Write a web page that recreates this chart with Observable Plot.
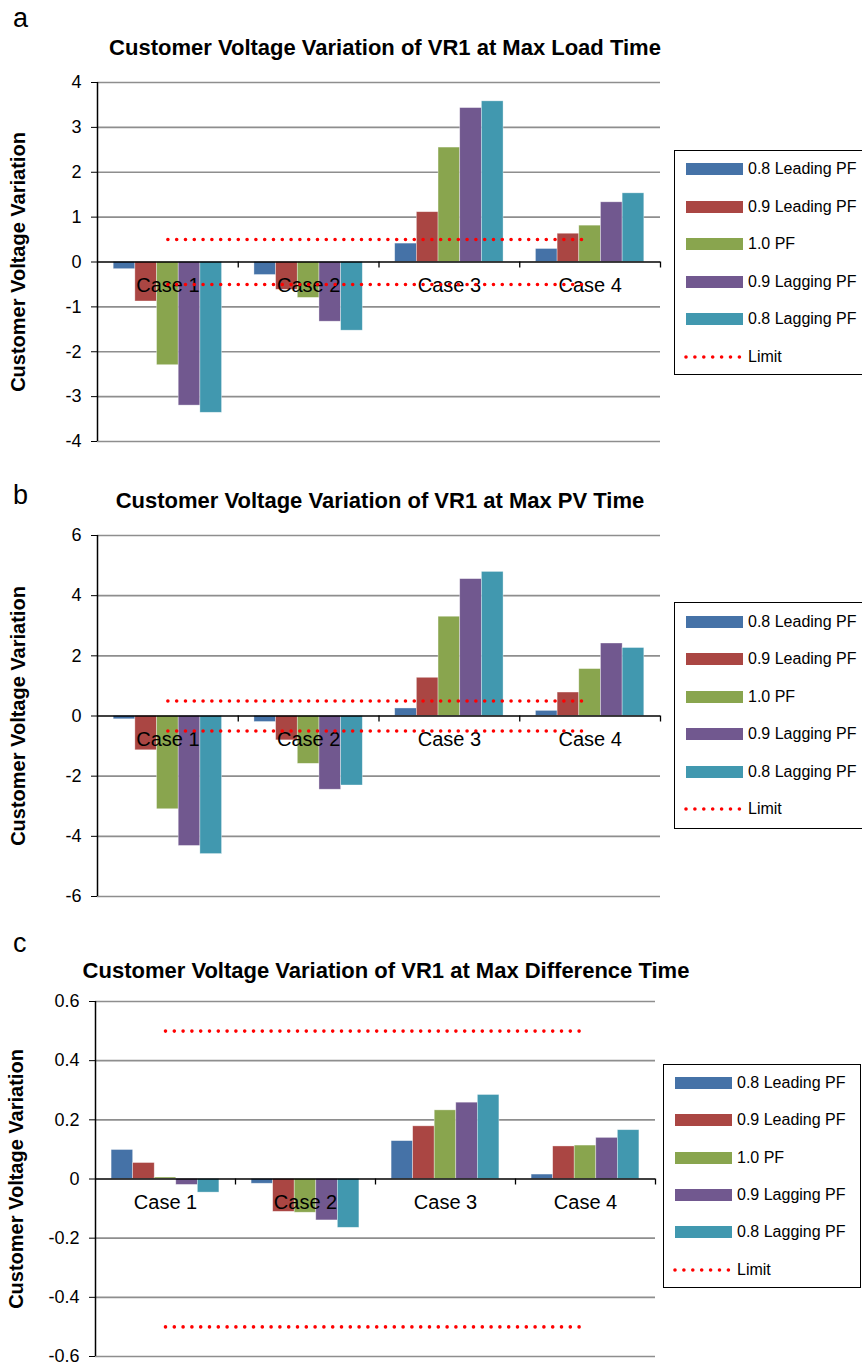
<!DOCTYPE html>
<html><head><meta charset="utf-8">
<script src="https://cdn.jsdelivr.net/npm/d3@7"></script>
<script src="https://cdn.jsdelivr.net/npm/@observablehq/plot@0.6"></script>
<style>
html,body{margin:0;padding:0;background:#fff;}
#fig{position:relative;width:862px;height:1362px;overflow:hidden;font-family:"Liberation Sans",Arial,sans-serif;color:#000;}
.abs{position:absolute;}
.letter{font-size:27px;line-height:27px;}
.title{font-size:22px;line-height:22px;font-weight:bold;text-align:center;white-space:nowrap;}
.legendbox{position:absolute;border:1.5px solid #000;background:#fff;box-sizing:border-box;}
.lrow{position:absolute;font-size:16px;line-height:20px;height:20px;white-space:nowrap;}
.sw{position:absolute;height:12px;}
svg.plot{position:absolute;}
</style></head>
<body><div id="fig"></div>
<script>
// ---------- data ----------
const cases = ["Case 1", "Case 2", "Case 3", "Case 4"];
const series = ["0.8 Leading PF", "0.9 Leading PF", "1.0 PF", "0.9 Lagging PF", "0.8 Lagging PF"];
const seriesColors = ["#4572A7", "#AA4643", "#89A54E", "#71588F", "#4198AF"];
const limitLabel = "Limit";
const limitUpper = 0.5;
const limitLower = -0.5;
const yLabel = "Customer Voltage Variation";

const titleA = "Customer Voltage Variation of VR1 at Max Load Time";
const titleB = "Customer Voltage Variation of VR1 at Max PV Time";
const titleC = "Customer Voltage Variation of VR1 at Max Difference Time";

// rows = series (in legend order), columns = cases
const maxLoadValues = [
  [-0.16, -0.29, 0.41, 0.29],
  [-0.88, -0.62, 1.11, 0.63],
  [-2.30, -0.80, 2.55, 0.81],
  [-3.20, -1.33, 3.43, 1.33],
  [-3.36, -1.53, 3.58, 1.53]
];
const maxPVValues = [
  [-0.11, -0.20, 0.25, 0.17],
  [-1.14, -0.81, 1.27, 0.78],
  [-3.10, -1.59, 3.30, 1.56],
  [-4.32, -2.45, 4.55, 2.41],
  [-4.59, -2.31, 4.79, 2.26]
];
const maxDiffValues = [
  [0.098, -0.016, 0.128, 0.015],
  [0.054, -0.111, 0.178, 0.110],
  [0.005, -0.114, 0.232, 0.113],
  [-0.020, -0.140, 0.258, 0.139],
  [-0.046, -0.165, 0.284, 0.165]
];
const ticksA = [-4, -3, -2, -1, 0, 1, 2, 3, 4];
const ticksB = [-6, -4, -2, 0, 2, 4, 6];
const ticksC = [-0.6, -0.4, -0.2, 0, 0.2, 0.4, 0.6];

// ---------- layout ----------
const FONT = '"Liberation Sans", Arial, sans-serif';
const groupPad = 0.115;
const barW = 0.154;
const fig = document.getElementById("fig");

function addDiv(cls, text, css) {
  const d = document.createElement("div");
  d.className = cls;
  if (text != null) d.textContent = text;
  Object.assign(d.style, css);
  fig.appendChild(d);
  return d;
}

function panel({values, ticks, top, width, height, mTop, mBottom, mLeft}) {
  const rows = [];
  series.forEach((s, j) => values[j].forEach((v, i) => rows.push({kase: cases[i], i, series: s, j, value: v})));
  const limitRows = cases.flatMap((c, i) => [
    {i, value: limitUpper, k: "upper"},
    {i, value: limitLower, k: "lower"}
  ]);
  const svg = Plot.plot({
    width, height,
    marginTop: mTop, marginBottom: mBottom, marginLeft: mLeft, marginRight: 10,
    style: {fontFamily: FONT, background: "transparent", overflow: "visible", color: "#000"},
    x: {domain: [0, cases.length], axis: null},
    y: {domain: [ticks[0], ticks[ticks.length - 1]], axis: null},
    color: {domain: series, range: seriesColors},
    marks: [
      Plot.ruleY(ticks.filter(t => t !== 0), {stroke: "#8e8e8e", strokeWidth: 1.6}),
      Plot.rect(rows, {
        x1: d => d.i + groupPad + d.j * barW,
        x2: d => d.i + groupPad + (d.j + 1) * barW,
        y1: 0, y2: "value", fill: "series",
        stroke: "#ffffff", strokeOpacity: 0.5, strokeWidth: 0.7
      }),
      Plot.ruleY([0], {stroke: "#000", strokeWidth: 1.5}),
      Plot.ruleX([0], {stroke: "#000", strokeWidth: 1.5}),
      Plot.ruleX(d3.range(1, cases.length + 1), {y1: 0, y2: 0, insetBottom: -6, stroke: "#000", strokeWidth: 1.3}),
      Plot.axisY({ticks, tickSize: 6, tickPadding: 10, fontSize: 18, tickFormat: d => String(d), label: null, stroke: "#000", fill: "#000"}),
      Plot.text(cases, {x: (d, i) => i + 0.5, y: 0, dy: 24, text: d => d, fontSize: 20, fill: "#000"}),
      Plot.line(limitRows, {
        x: d => d.i + 0.5, y: "value", z: "k",
        stroke: "#ff0000", strokeWidth: 3.6, strokeDasharray: "0 8.8", strokeLinecap: "round"
      }),
      Plot.text([yLabel], {frameAnchor: "left", textAnchor: "middle", lineAnchor: "middle", rotate: -90, dx: -79, text: d => d, fontSize: 20, fontWeight: "bold", fill: "#000"})
    ]
  });
  svg.classList.add("plot");
  svg.style.left = "0px";
  svg.style.top = top + "px";
  fig.appendChild(svg);
}

function legend({left, top, width, height, rowStart, rowStep, swX, swW, textX}) {
  addDiv("legendbox", null, {left: left + "px", top: top + "px", width: width + "px", height: height + "px"});
  series.forEach((s, k) => {
    const cy = rowStart + k * rowStep;
    addDiv("sw", null, {left: swX + "px", top: (cy - 6) + "px", width: swW + "px", background: seriesColors[k]});
    addDiv("lrow", s, {left: textX + "px", top: (cy - 10) + "px"});
  });
  const cy = rowStart + series.length * rowStep;
  const ns = "http://www.w3.org/2000/svg";
  const s = document.createElementNS(ns, "svg");
  s.setAttribute("width", swW + 4);
  s.setAttribute("height", 10);
  s.style.position = "absolute";
  s.style.left = (swX - 2) + "px";
  s.style.top = (cy - 5) + "px";
  const ln = document.createElementNS(ns, "line");
  ln.setAttribute("x1", 2); ln.setAttribute("x2", swW - 1);
  ln.setAttribute("y1", 5); ln.setAttribute("y2", 5);
  ln.setAttribute("stroke", "#ff0000");
  ln.setAttribute("stroke-width", 3.6);
  ln.setAttribute("stroke-dasharray", "0 8.9");
  ln.setAttribute("stroke-linecap", "round");
  s.appendChild(ln);
  fig.appendChild(s);
  addDiv("lrow", limitLabel, {left: textX + "px", top: (cy - 10) + "px"});
}

// panel letters and titles
addDiv("abs letter", "a", {left: "13px", top: "5px"});
addDiv("abs letter", "b", {left: "13px", top: "482px"});
addDiv("abs letter", "c", {left: "13px", top: "930px"});
addDiv("abs title", titleA, {left: "0px", width: "770px", top: "37px"});
addDiv("abs title", titleB, {left: "0px", width: "760px", top: "490px"});
addDiv("abs title", titleC, {left: "0px", width: "772px", top: "960px"});

panel({values: maxLoadValues, ticks: ticksA, top: 60, width: 670, height: 391, mTop: 22, mBottom: 10, mLeft: 97});
panel({values: maxPVValues, ticks: ticksB, top: 515, width: 670, height: 391, mTop: 20, mBottom: 10, mLeft: 97});
panel({values: maxDiffValues, ticks: ticksC, top: 985, width: 665, height: 377, mTop: 16, mBottom: 6, mLeft: 95});

legend({left: 674, top: 150, width: 200, height: 225, rowStart: 169, rowStep: 37.5, swX: 686, swW: 57, textX: 748});
legend({left: 674, top: 602, width: 200, height: 227, rowStart: 622, rowStep: 37.4, swX: 686, swW: 57, textX: 748});
legend({left: 663, top: 1064, width: 198, height: 224, rowStart: 1083, rowStep: 37.3, swX: 675, swW: 57, textX: 737});
</script></body></html>
